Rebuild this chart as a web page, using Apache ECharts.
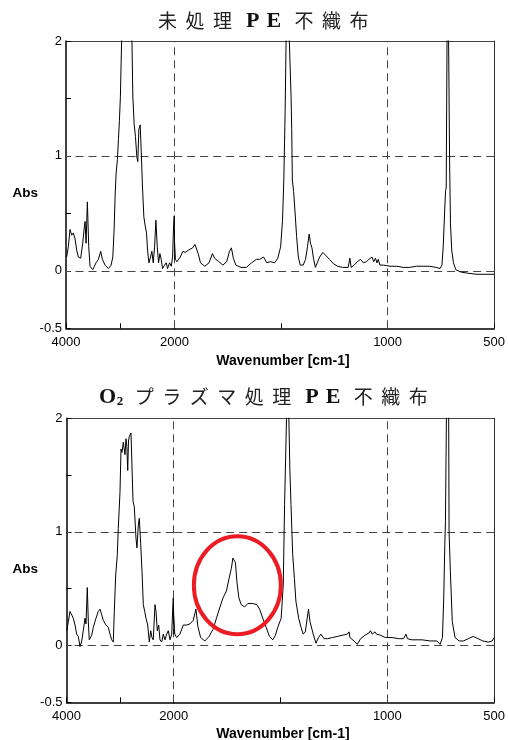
<!DOCTYPE html>
<html><head><meta charset="utf-8">
<script src="https://cdn.jsdelivr.net/npm/echarts@6/dist/echarts.min.js"></script>
<style>html,body{margin:0;padding:0;background:#fff}#c{width:508px;height:740px}</style>
</head><body><div id="c"></div>
<script>
// ---- data: untreated PE nonwoven (top) ----
const topWn = [3988,3957,3926,3895,3865,3834,3803,3772,3729,3692,3667,3649,3630,3606,3581,3557,3507,3446,3403,3360,3329,3280,3218,3169,3137,3113,3095,3076,3052,3034,3015,2997,2984,2972,2950,2920,2890,2850,2820,2786,2768,2744,2720,2694,2676,2657,2633,2614,2590,2565,2540,2516,2497,2472,2442,2417,2392,2367,2343,2318,2294,2269,2245,2220,2183,2152,2128,2091,2060,2035,2017,2005,2000,1996,1989,1973,1961,1950,1935,1915,1904,1896,1889,1878,1858,1838,1822,1812,1792,1773,1755,1742,1733,1724,1712,1688,1663,1638,1616,1601,1582,1567,1550,1530,1515,1502,1493,1487,1481,1476,1470,1462,1453,1450,1447,1441,1435,1427,1419,1410,1396,1385,1376,1368,1362,1355,1348,1339,1330,1319,1304,1288,1273,1253,1234,1211,1185,1177,1171,1157,1142,1127,1114,1099,1088,1080,1073,1065,1057,1050,1044,1036,1019,988,957,927,896,865,834,803,772,754,745,739,732,728,725,721,718,714,709,705,699,691,680,657,626,580,534,500];
const topAbs = [0.12,0.21,0.36,0.31,0.33,0.28,0.18,0.12,0.11,0.24,0.36,0.43,0.24,0.60,0.21,0.04,0.01,0.07,0.10,0.17,0.10,0.05,0.02,0.05,0.12,0.36,0.65,0.85,0.97,1.14,1.31,1.52,1.81,2.05,2.6,3.2,2.7,3.0,2.6,2.05,1.52,1.28,1.17,0.99,0.95,1.23,1.27,1.05,0.73,0.47,0.39,0.33,0.18,0.07,0.12,0.17,0.07,0.21,0.44,0.21,0.07,0.15,0.10,0.02,0.05,0.07,0.02,0.07,0.04,0.12,0.39,0.48,0.25,0.10,0.08,0.12,0.17,0.16,0.18,0.20,0.23,0.24,0.15,0.07,0.04,0.07,0.15,0.11,0.08,0.05,0.08,0.17,0.20,0.11,0.05,0.03,0.03,0.07,0.10,0.10,0.12,0.07,0.08,0.07,0.11,0.21,0.44,0.79,1.37,2.05,3.2,2.05,1.52,1.23,0.79,0.69,0.53,0.30,0.12,0.05,0.05,0.10,0.21,0.32,0.24,0.20,0.11,0.03,0.07,0.12,0.16,0.13,0.10,0.06,0.04,0.03,0.03,0.11,0.03,0.05,0.08,0.10,0.07,0.08,0.10,0.09,0.12,0.08,0.11,0.07,0.10,0.05,0.05,0.04,0.04,0.03,0.03,0.04,0.04,0.04,0.03,0.02,0.05,0.21,0.53,0.70,0.72,2.05,3.2,2.05,0.94,0.41,0.18,0.07,0.01,-0.01,-0.02,-0.03,-0.03,-0.03];

// ---- data: O2 plasma treated PE nonwoven (bottom) ----
const botWn = [3996,3966,3935,3903,3873,3841,3810,3780,3748,3716,3687,3655,3636,3612,3593,3575,3530,3500,3450,3407,3375,3343,3313,3263,3220,3188,3157,3127,3108,3082,3052,3034,3002,2983,2965,2940,2909,2890,2874,2858,2843,2828,2797,2772,2759,2735,2703,2685,2660,2642,2616,2591,2567,2541,2517,2485,2455,2429,2405,2381,2349,2330,2306,2280,2256,2224,2194,2162,2131,2101,2069,2037,2018,2007,2000,1995,1986,1971,1955,1940,1924,1909,1896,1887,1874,1854,1834,1823,1816,1808,1800,1785,1769,1753,1741,1730,1723,1718,1711,1704,1695,1684,1668,1653,1632,1611,1598,1583,1567,1552,1536,1524,1513,1497,1487,1481,1474,1471,1467,1462,1456,1451,1443,1435,1428,1415,1404,1394,1384,1375,1369,1362,1355,1347,1334,1322,1311,1304,1296,1280,1257,1234,1211,1187,1179,1175,1156,1141,1125,1105,1086,1079,1071,1058,1051,1032,1009,978,947,924,913,906,885,838,799,768,753,742,736,731,728,723,717,713,711,705,696,683,664,644,621,598,575,553,528,509,500];
const botAbs = [0.13,0.21,0.30,0.27,0.24,0.18,0.10,0.08,-0.01,0.04,0.13,0.24,0.19,0.51,0.21,0.05,0.09,0.16,0.24,0.30,0.32,0.27,0.22,0.18,0.16,0.10,0.05,0.03,0.30,0.62,0.80,1.03,1.35,1.73,1.70,1.79,1.68,1.82,1.75,1.54,1.80,1.84,1.87,1.88,1.27,1.22,0.94,0.86,1.06,1.12,0.90,0.65,0.36,0.30,0.24,0.18,0.03,0.13,0.07,0.05,0.36,0.30,0.13,0.18,0.05,0.03,0.10,0.05,0.10,0.13,0.05,0.10,0.33,0.42,0.25,0.10,0.07,0.10,0.18,0.18,0.19,0.22,0.32,0.17,0.07,0.04,0.08,0.12,0.14,0.19,0.24,0.33,0.42,0.48,0.59,0.68,0.77,0.78,0.73,0.56,0.42,0.36,0.34,0.37,0.37,0.36,0.32,0.24,0.16,0.08,0.05,0.09,0.16,0.24,0.54,1.24,1.82,2.1,2.9,2.1,1.53,1.24,0.80,0.59,0.39,0.24,0.16,0.10,0.12,0.24,0.32,0.21,0.20,0.10,0.02,0.07,0.10,0.11,0.06,0.06,0.07,0.08,0.09,0.10,0.12,0.07,0.04,0.01,0.06,0.09,0.11,0.13,0.10,0.12,0.10,0.09,0.07,0.07,0.06,0.06,0.10,0.06,0.05,0.05,0.04,0.04,0.01,0.07,0.42,0.89,1.09,2.1,2.9,2.1,1.0,0.65,0.21,0.07,0.04,0.04,0.06,0.08,0.06,0.04,0.03,0.04,0.07,0.08];

// ---- axes / labels ----
const xLabelValues = [4000, 2000, 1000, 500];
const yLabelValues = [-0.5, 0, 1, 2];
const dashedWn = [2000, 1000];
const dashedAbs = [0, 1];
const highRange = [2000, 4000];
const lowRange = [500, 2000];
const titleTop = ['未','処','理','P','E','不','織','布'];
const titleBot = ['O','2','プ','ラ','ズ','マ','処','理','P','E','不','織','布'];
const xName = 'Wavenumber [cm-1]';
const yName = 'Abs';
const circleCenter = [1702, 0.53]; // annotation centre (wavenumber, Abs) on lower plot

const panels = [
  {top: 41, height: 287.3, aLeft: 66, aWidth: 108.5, bWidth: 324.8, wn: topWn, ab: topAbs},
  {top: 418.3, height: 284, aLeft: 66.5, aWidth: 107.2, bWidth: 322.3, wn: botWn, ab: botAbs}
];

function splitData(wn, ab, lo, hi) {
  const inR = i => i >= 0 && i < wn.length && wn[i] >= lo && wn[i] <= hi;
  const out = [];
  for (let i = 0; i < wn.length; i++) {
    if (inR(i) || inR(i - 1) || inR(i + 1)) out.push([wn[i], ab[i]]);
  }
  return out;
}

const LBL = {fontFamily: 'Liberation Sans, Arial, sans-serif', fontSize: 13, color: '#000'};
const dashStyle = {type: [8, 5], color: '#444', width: 1};

const grids = [], xAxes = [], yAxes = [], series = [];
panels.forEach((p, pi) => {
  const ga = grids.length;
  grids.push({left: p.aLeft, top: p.top, width: p.aWidth, height: p.height});
  grids.push({left: p.aLeft + p.aWidth, top: p.top, width: p.bWidth, height: p.height});
  [[highRange, 1000], [lowRange, 500]].forEach(([rng, iv], k) => {
    const g = ga + k;
    xAxes.push({
      type: 'value', gridIndex: g, position: 'bottom', min: rng[0], max: rng[1], interval: iv, inverse: true,
      axisLine: {show: true, onZero: false, lineStyle: {color: '#000', width: 1.5}},
      axisTick: {show: true, inside: true, length: 5, lineStyle: {color: '#000', width: 1}},
      axisLabel: Object.assign({
        margin: 8, showMinLabel: true, showMaxLabel: true,
        formatter: v => (xLabelValues.includes(v) && !(k === 1 && v === 2000)) ? String(v) : ''
      }, LBL),
      splitLine: {show: false}
    });
    xAxes.push({
      type: 'value', gridIndex: g, position: 'top', min: rng[0], max: rng[1], inverse: true,
      axisLine: {show: true, onZero: false, lineStyle: {color: '#444', width: 1}},
      axisTick: {show: false}, axisLabel: {show: false}, splitLine: {show: false}
    });
    yAxes.push(k === 0 ? {
      type: 'value', gridIndex: g, min: -0.5, max: 2, interval: 0.5,
      axisLine: {show: true, onZero: false, lineStyle: {color: '#000', width: 1.5}},
      axisTick: {show: true, inside: true, length: 5, lineStyle: {color: '#000', width: 1}},
      axisLabel: Object.assign({margin: 4, formatter: v => yLabelValues.includes(v) ? String(v) : ''}, LBL),
      splitLine: {show: false}
    } : {
      type: 'value', gridIndex: g, position: 'right', min: -0.5, max: 2, interval: 0.5,
      axisLine: {show: true, onZero: false, lineStyle: {color: '#333', width: 1}},
      axisTick: {show: false}, axisLabel: {show: false}, splitLine: {show: false}
    });
    const mlData = dashedAbs.map(v => ({yAxis: v}))
      .concat(k === 1 ? dashedWn.map(v => ({xAxis: v})) : []);
    series.push({
      type: 'line', xAxisIndex: 2 * g, yAxisIndex: g,
      data: splitData(p.wn, p.ab, rng[0], rng[1]),
      showSymbol: false, symbol: 'none', clip: true, z: 3,
      lineStyle: {color: '#000', width: 1},
      markLine: {silent: true, symbol: ['none', 'none'], label: {show: false},
        lineStyle: dashStyle, emphasis: {disabled: true}, animation: false, z: 2, data: mlData}
    });
  });
});

function richTitle(chars) {
  const rich = {
    c: {fontFamily: 'Noto Sans CJK JP', fontSize: 19, width: 27.5, align: 'center', fill: '#222'},
    p: {fontFamily: 'Liberation Serif', fontWeight: 'bold', fontSize: 22, width: 21, align: 'center', fill: '#111'},
    o: {fontFamily: 'Liberation Serif', fontWeight: 'bold', fontSize: 22, width: 16, align: 'center', fill: '#111'},
    s: {fontFamily: 'Liberation Serif', fontWeight: 'bold', fontSize: 13, width: 9, align: 'center', fill: '#111', verticalAlign: 'bottom', padding: [9, 0, 0, 0]},
    g: {width: 6}
  };
  let str = '';
  chars.forEach((ch, i) => {
    let st = /[A-Z]/.test(ch) ? (ch === 'O' ? 'o' : 'p') : (/[0-9]/.test(ch) ? 's' : 'c');
    if (ch === 'P') str += '{g| }';
    str += '{' + st + '|' + ch + '}';
    if (ch === 'E') str += '{g| }';
    if (ch === '2') str += '{g| }';
  });
  return {text: str, rich};
}

const t1 = richTitle(titleTop), t2 = richTitle(titleBot);
const graphics = [
  {type: 'text', left: 158, top: 10, style: {text: t1.text, rich: t1.rich, fill: '#222'}},
  {type: 'text', left: 99, top: 386, style: {text: t2.text, rich: t2.rich, fill: '#222'}},
  {type: 'text', x: 12.5, y: 193, style: {text: yName, font: 'bold 13.5px Liberation Sans', fill: '#000', verticalAlign: 'middle'}},
  {type: 'text', x: 12.5, y: 569, style: {text: yName, font: 'bold 13.5px Liberation Sans', fill: '#000', verticalAlign: 'middle'}},
  {type: 'text', x: 283, y: 361, style: {text: xName, font: 'bold 14px Liberation Sans', fill: '#000', align: 'center', verticalAlign: 'middle'}},
  {type: 'text', x: 283, y: 734, style: {text: xName, font: 'bold 14px Liberation Sans', fill: '#000', align: 'center', verticalAlign: 'middle'}}
];

const chart = echarts.init(document.getElementById('c'), null, {renderer: 'canvas'});
chart.setOption({
  animation: false, backgroundColor: '#fff',
  grid: grids, xAxis: xAxes, yAxis: yAxes, series: series, graphic: graphics
});
const c = chart.convertToPixel({xAxisIndex: 6, yAxisIndex: 3}, circleCenter);
graphics.push({type: 'ellipse', shape: {cx: c[0], cy: c[1], rx: 43.5, ry: 49}, z: 10,
  style: {fill: 'none', stroke: '#ec1c24', lineWidth: 4}});
chart.setOption({graphic: graphics});
</script></body></html>
